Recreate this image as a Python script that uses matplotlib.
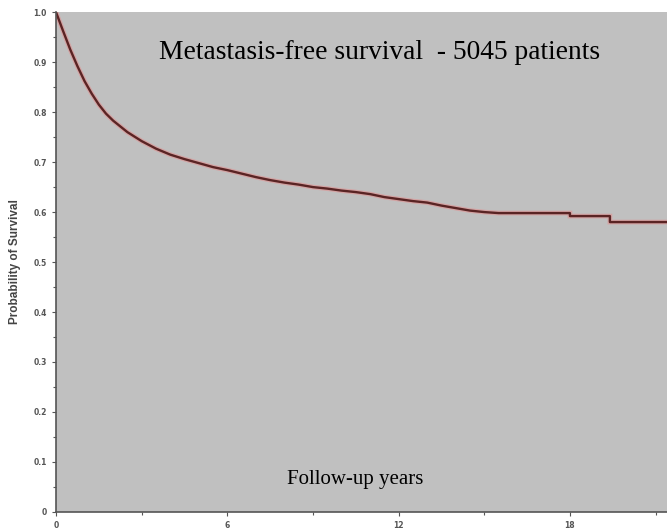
import matplotlib
matplotlib.use("Agg")
import matplotlib.pyplot as plt
from matplotlib.ticker import MultipleLocator

# Kaplan-Meier estimate (years, survival probability)
# early part has so many events it looks smooth; late drops are visible steps
anos = [0, 0.25, 0.5, 0.75, 1.0, 1.25, 1.5, 1.75, 2.0, 2.5, 3.0, 3.5, 4.0,
        4.5, 5.0, 5.5, 6.0, 6.5, 7.0, 7.5, 8.0, 8.5, 9.0, 9.5, 10.0, 10.5,
        11.0, 11.5, 12.0, 12.5, 13.0, 13.5, 14.0, 14.5, 15.0, 15.5, 18.0,
        18.0, 19.4, 19.4, 21.4]
sobrevida = [1.0, 0.962, 0.925, 0.892, 0.862, 0.837, 0.815, 0.797, 0.783,
             0.76, 0.742, 0.727, 0.715, 0.706, 0.698, 0.69, 0.684, 0.677,
             0.670, 0.664, 0.659, 0.655, 0.650, 0.647, 0.643, 0.640, 0.636,
             0.630, 0.626, 0.622, 0.619, 0.613, 0.608, 0.603, 0.600, 0.598,
             0.598, 0.592, 0.592, 0.580, 0.580]

x_ticks = [0, 6, 12, 18]
y_ticks = [0, 0.1, 0.2, 0.3, 0.4, 0.5, 0.6, 0.7, 0.8, 0.9, 1.0]
y_labels = ["0", "0.1", "0.2", "0.3", "0.4", "0.5", "0.6", "0.7", "0.8", "0.9", "1.0"]

fig = plt.figure(figsize=(6.67, 5.31), dpi=100)
ax = fig.add_axes([0.084, 0.036, 0.916, 0.941])
ax.set_facecolor("#c0c0c0")

# pink halo under the dark curve
ax.plot(anos, sobrevida, color="#e09090", lw=3.4, alpha=0.6, solid_joinstyle="miter")
ax.plot(anos, sobrevida, color="#5a2424", lw=1.7)

ax.set_xlim(0, 21.4)
ax.set_ylim(0, 1.0)
ax.set_xticks(x_ticks)
ax.set_yticks(y_ticks)
ax.set_yticklabels(y_labels)
ax.xaxis.set_minor_locator(MultipleLocator(3))
ax.yaxis.set_minor_locator(MultipleLocator(0.05))

for s in ["top", "right"]:
    ax.spines[s].set_visible(False)
for s in ["left", "bottom"]:
    ax.spines[s].set_color("#555555")
    ax.spines[s].set_linewidth(1.2)

ax.tick_params(which="both", colors="#555555", labelsize=5.5, length=3, width=0.8)
ax.tick_params(which="minor", length=2)
for lab in ax.get_xticklabels() + ax.get_yticklabels():
    lab.set_fontweight("bold")

ax.set_ylabel("Probability of Survival", fontsize=8.5, fontweight="bold",
              family="Liberation Sans", color="#444444", labelpad=2)
ax.yaxis.set_label_coords(-0.058, 0.5)

ax.text(0.53, 0.92, "Metastasis-free survival  - 5045 patients", transform=ax.transAxes,
        ha="center", va="center", fontsize=19.8, family="Liberation Serif", color="black")
ax.text(0.49, 0.064, "Follow-up years", transform=ax.transAxes,
        ha="center", va="center", fontsize=15, family="Liberation Serif", color="black")

fig.savefig("out.png", dpi=100)
